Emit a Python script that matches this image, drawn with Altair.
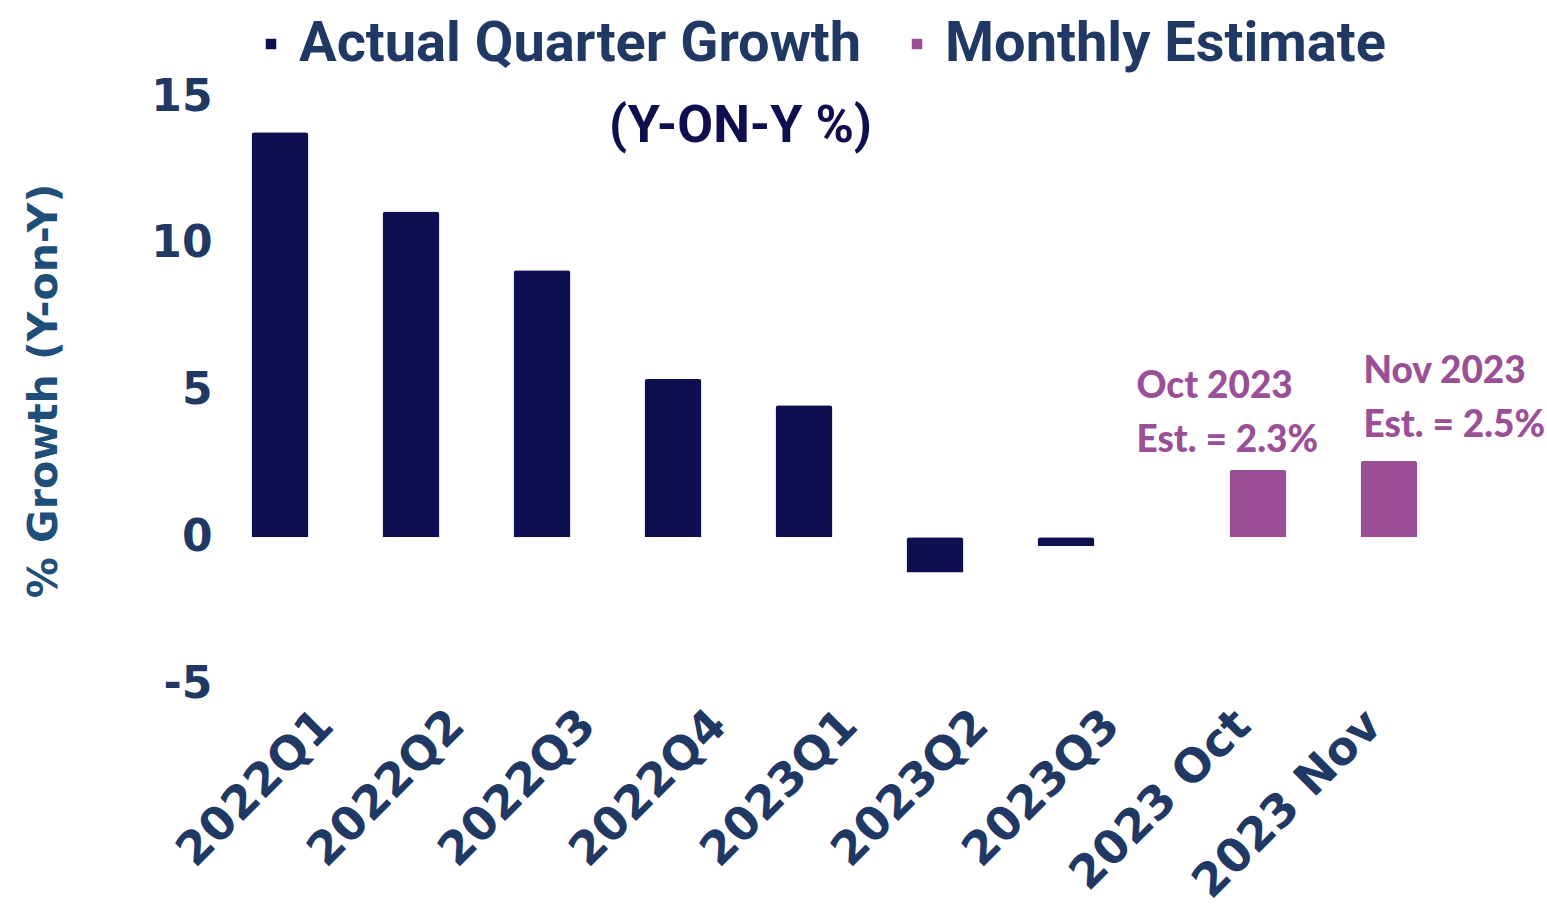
import altair as alt
import pandas as pd

categories = ["2022Q1", "2022Q2", "2022Q3", "2022Q4", "2023Q1", "2023Q2", "2023Q3", "2023 Oct", "2023 Nov"]
values = [13.8, 11.1, 9.1, 5.4, 4.5, -1.2, -0.3, 2.3, 2.6]
series = ["Actual Quarter Growth"] * 7 + ["Monthly Estimate"] * 2
series_names = ["Actual Quarter Growth", "Monthly Estimate"]
series_colors = ["#0d0f50", "#9b4f96"]
y_ticks = [-5, 0, 5, 10, 15]

ann_cats = ["2023 Oct", "2023 Nov"]
ann_vals = [2.3, 2.6]
ann_text = ["Oct 2023\nEst. = 2.3%", "Nov 2023\nEst. = 2.5%"]
ann_dx = [-91, 5]
ann_dy = [-72, -78]

df = pd.DataFrame({"cat": categories, "val": values, "series": series})

NAVY = "#1f3864"
FONT = "DejaVu Sans"

x_enc = alt.X("cat:N", sort=categories,
              scale=alt.Scale(paddingInner=0.069, paddingOuter=0.0345),
              axis=alt.Axis(title=None, labelAngle=-45, labelFont=FONT, labelFontWeight="bold",
                            labelFontSize=46, labelColor=NAVY, ticks=False, domain=False,
                            labelPadding=18, grid=False, labelLimit=600))
y_enc = alt.Y("val:Q", scale=alt.Scale(domain=[-5, 15], nice=False, zero=False),
              axis=alt.Axis(values=y_ticks, title="% Growth (Y-on-Y)", titleFont=FONT,
                            titleFontWeight="bold", titleFontSize=41, titleColor="#1f4e79",
                            titlePadding=85, labelFont=FONT, labelFontWeight="bold",
                            labelFontSize=44, labelColor=NAVY, labelPadding=33,
                            labelExpr="'' + datum.value",
                            ticks=False, domain=False, grid=False, labelFlush=False))

bars = alt.Chart(df).mark_bar(cornerRadiusEnd=3).encode(
    x=x_enc,
    y=y_enc,
    xOffset=alt.XOffset("series:N", sort=series_names,
                        scale=alt.Scale(domain=series_names, paddingInner=0.066, paddingOuter=0.033)),
    color=alt.Color("series:N", sort=series_names,
                    scale=alt.Scale(domain=series_names, range=series_colors),
                    legend=alt.Legend(title=None, orient="none", direction="horizontal",
                                      legendX=-2, legendY=-81, symbolType="square", symbolSize=110,
                                      labelFont="Roboto", labelFontWeight="bold", labelFontSize=56,
                                      labelColor=NAVY, labelOffset=0, columnPadding=27,
                                      symbolStrokeWidth=0, labelLimit=1000)),
)

layers = [bars]
for c, v, t, dx, dy in zip(ann_cats, ann_vals, ann_text, ann_dx, ann_dy):
    adf = pd.DataFrame({"cat": [c], "val": [v], "txt": [t]})
    layers.append(
        alt.Chart(adf).mark_text(align="left", baseline="alphabetic", dx=dx, dy=dy,
                                 font="Lato", fontWeight=900, fontSize=37,
                                 color="#9b4f96", lineBreak="\n", lineHeight=54).encode(
            x=alt.X("cat:N", sort=categories), y=alt.Y("val:Q"), text="txt:N")
    )

chart = alt.layer(*layers).properties(
    width=1179, height=587,
    title=alt.TitleParams(text="(Y-ON-Y %)", anchor="middle", dx=-94, dy=141,
                          font="Roboto", fontWeight="bold", fontSize=52, color="#0f0f4f"),
    autosize=alt.AutoSizeParams(type="none"),
    padding={"left": 245, "top": 97, "right": 123, "bottom": 229},
).configure(background="white").configure_view(strokeWidth=0, stroke=None)

chart.save("out.html", embed_options={"renderer": "svg", "actions": False})
